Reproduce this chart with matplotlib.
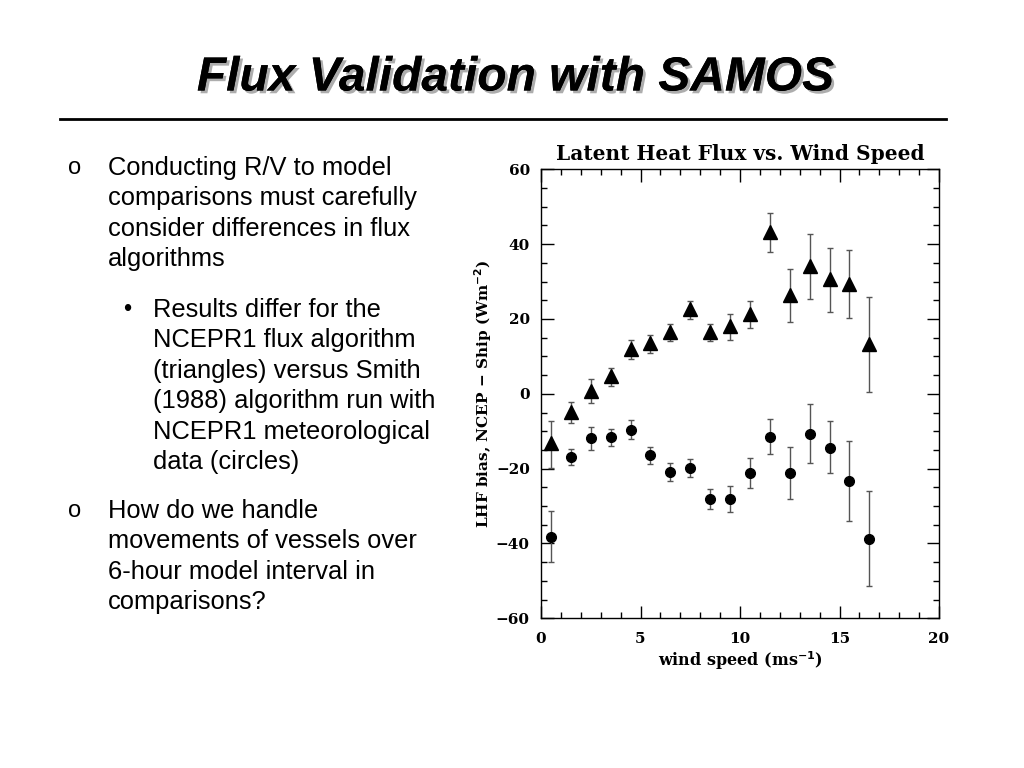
import matplotlib
matplotlib.use("Agg")
import matplotlib.pyplot as plt
import matplotlib.patheffects as pe
import numpy as np

wind = [0.5, 1.5, 2.5, 3.5, 4.5, 5.5, 6.5, 7.5, 8.5, 9.5, 10.5, 11.5, 12.5, 13.5, 14.5, 15.5, 16.5]

# NCEPR1 algorithm (triangles)
tri_val = [-13.2, -4.9, 0.8, 4.8, 11.9, 13.7, 16.6, 22.7, 16.6, 18.2, 21.3, 43.3, 26.5, 34.2, 30.8, 29.3, 13.3]
tri_hi = [-7.2, -2.3, 3.9, 6.8, 14.3, 15.7, 18.7, 24.9, 18.7, 21.3, 24.7, 48.4, 33.4, 42.7, 39.1, 38.3, 25.8]
tri_lo = [-19.9, -7.8, -2.5, 2.2, 9.4, 11.0, 14.1, 20.1, 14.1, 14.5, 17.5, 37.8, 19.1, 25.3, 21.9, 20.2, 0.5]

# Smith (1988) algorithm (circles)
cir_val = [-38.2, -16.8, -11.9, -11.6, -9.6, -16.4, -20.9, -19.9, -28.1, -28.1, -21.2, -11.5, -21.3, -10.7, -14.4, -23.4, -38.8]
cir_hi = [-31.4, -14.7, -8.8, -9.3, -7.1, -14.1, -18.6, -17.5, -25.4, -24.6, -17.2, -6.7, -14.3, -2.8, -7.3, -12.6, -26.0]
cir_lo = [-45.0, -19.0, -15.0, -13.9, -12.2, -18.8, -23.2, -22.3, -30.8, -31.7, -25.3, -16.2, -28.2, -18.5, -21.2, -34.1, -51.4]

x_ticks = [0, 5, 10, 15, 20]
y_ticks = [-60, -40, -20, 0, 20, 40, 60]

bullets = [
    (75, 168, "o", 108, ["Conducting R/V to model", "comparisons must carefully",
                         "consider differences in flux", "algorithms"]),
    (127, 310, "\u2022", 153, ["Results differ for the", "NCEPR1 flux algorithm",
                               "(triangles) versus Smith", "(1988) algorithm run with",
                               "NCEPR1 meteorological", "data (circles)"]),
    (75, 511, "o", 108, ["How do we handle", "movements of vessels over",
                         "6-hour model interval in", "comparisons?"]),
]

W, H = 1024, 768
fig = plt.figure(figsize=(W / 100, H / 100), dpi=100)
fig.patch.set_facecolor("white")

# Title with shadow
fig.text(515 / W, 1 - 78 / H, "Flux Validation with SAMOS", ha="center", va="center",
         fontsize=34.5, fontweight="bold", fontstyle="italic", family="Liberation Sans",
         color="black",
         path_effects=[pe.withSimplePatchShadow(offset=(2, -2), shadow_rgbFace="#999999", alpha=0.8), pe.Normal()])
fig.add_artist(plt.Line2D([60 / W, 946 / W], [1 - 119 / H, 1 - 119 / H], color="black", lw=2))

line_h = 30.4
for bx, by, sym, tx, lines in bullets:
    fig.text(bx / W, 1 - by / H, sym, ha="center", va="center", fontsize=17, family="Liberation Sans")
    for i, ln in enumerate(lines):
        fig.text(tx / W, 1 - (by + i * line_h) / H, ln, ha="left", va="center",
                 fontsize=18.4, family="Liberation Sans")

ax = fig.add_axes([541 / W, 1 - 618.3 / H, 398 / W, 449 / H])
serif = "DejaVu Serif"

x = np.array(wind)
tv, th, tl = np.array(tri_val), np.array(tri_hi), np.array(tri_lo)
cv, ch, cl = np.array(cir_val), np.array(cir_hi), np.array(cir_lo)
ax.errorbar(x, tv, yerr=[tv - tl, th - tv], fmt="none", ecolor="#555555", elinewidth=1,
            capsize=2.5, capthick=1)
ax.plot(x, tv, linestyle="none", marker="^", markersize=10, color="black")
ax.errorbar(x, cv, yerr=[cv - cl, ch - cv], fmt="none", ecolor="#555555", elinewidth=1,
            capsize=2.5, capthick=1)
ax.plot(x, cv, linestyle="none", marker="o", markersize=7, color="black")

ax.set_xlim(0, 20)
ax.set_ylim(-60, 60)
ax.set_xticks(x_ticks)
ax.set_yticks(y_ticks)
ax.set_xticks(np.arange(0, 21, 1), minor=True)
ax.set_yticks(np.arange(-60, 61, 5), minor=True)
ax.tick_params(which="both", direction="in", top=True, right=True, labeltop=False, labelright=False)
ax.tick_params(which="major", length=9, width=1)
ax.tick_params(which="minor", length=4, width=1)
ax.set_xticklabels([str(v) for v in x_ticks], fontsize=11, fontweight="bold", family=serif)
ax.set_yticklabels([str(v).replace("-", "\u2212") for v in y_ticks], fontsize=11, fontweight="bold", family=serif)
ax.tick_params(axis="x", pad=10)
ax.tick_params(axis="y", pad=8)
for s in ax.spines.values():
    s.set_linewidth(1)

ax.set_title("Latent Heat Flux vs. Wind Speed", fontsize=14.5, fontweight="bold", family=serif, pad=7)
ax.set_xlabel("wind speed (ms$^{\\mathbf{-1}}$)", fontsize=11.5, fontweight="bold", family=serif, labelpad=2)
ax.set_ylabel("LHF bias, NCEP \u2212 Ship (Wm$^{\\mathbf{-2}}$)", fontsize=11, fontweight="bold", family=serif, labelpad=1)

fig.savefig("out.png", dpi=100)
